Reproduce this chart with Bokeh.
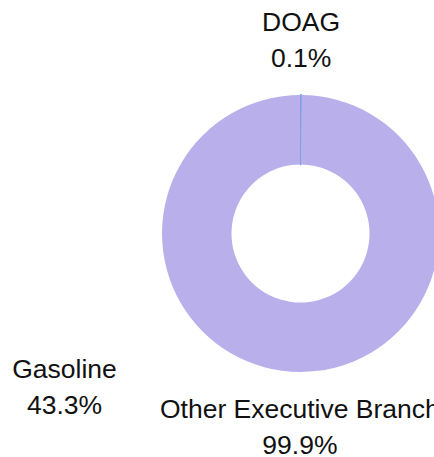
import math
from bokeh.plotting import figure
from bokeh.models import Range1d, ColumnDataSource
from bokeh.core.properties import value
from bokeh.embed import file_html
from bokeh.resources import INLINE

# ---- data ----
categories = ["DOAG", "Other Executive Branch"]
shares = [0.1, 99.9]
colors = ["#4a8fe0", "#b9afeb"]
stray_labels = ["Gasoline"]
stray_shares = [43.3]

# ---- layout (pixel space; y is negated so angles stay standard) ----
W, H = 434, 457
CX, CY = 300, -233
R_OUT, R_IN, R_LABEL = 138.5, 69, 194
FONT = "26.5px"

total = sum(shares)
starts, ends, lx, ly = [], [], [], []
a = math.pi / 2
for s in shares:
    sweep = 2 * math.pi * s / total
    starts.append(a - sweep)
    ends.append(a)
    mid = a - sweep / 2
    lx.append(CX + R_LABEL * math.cos(mid))
    ly.append(CY + R_LABEL * math.sin(mid))
    a -= sweep

src = ColumnDataSource(dict(
    cat=categories,
    pct=[f"{s:.1f}%" for s in shares],
    start=starts, end=ends, color=colors, lx=lx, ly=ly,
    lalpha=[1.0 if s < 1 else 0.0 for s in shares],
))

p = figure(width=W, height=H, output_backend="svg", toolbar_location=None,
           x_range=Range1d(0, W), y_range=Range1d(-H, 0),
           min_border=0, outline_line_color=None)
p.axis.visible = False
p.grid.visible = False
p.background_fill_color = "white"
p.border_fill_color = "white"

p.annular_wedge(x=CX, y=CY, inner_radius=R_IN, outer_radius=R_OUT,
                start_angle="start", end_angle="end", fill_color="color",
                line_color="color", line_alpha="lalpha", line_width=1.3,
                source=src)

p.text(x="lx", y="ly", text="cat", y_offset=-18, text_align="center",
       text_baseline="middle", text_font=value("Liberation Sans"),
       text_font_size=FONT, text_color="#111111", source=src)
p.text(x="lx", y="ly", text="pct", y_offset=18, text_align="center",
       text_baseline="middle", text_font=value("Liberation Sans"),
       text_font_size=FONT, text_color="#111111", source=src)

# stray label left over in the reference
sx, sy = [64], [-386]
p.text(x=sx, y=sy, text=stray_labels, y_offset=-18, text_align="center",
       text_baseline="middle", text_font=value("Liberation Sans"),
       text_font_size=FONT, text_color="#111111")
p.text(x=sx, y=sy, text=[f"{v:.1f}%" for v in stray_shares], y_offset=18,
       text_align="center", text_baseline="middle",
       text_font=value("Liberation Sans"), text_font_size=FONT,
       text_color="#111111")

open("out.html", "w").write(file_html(p, INLINE))
